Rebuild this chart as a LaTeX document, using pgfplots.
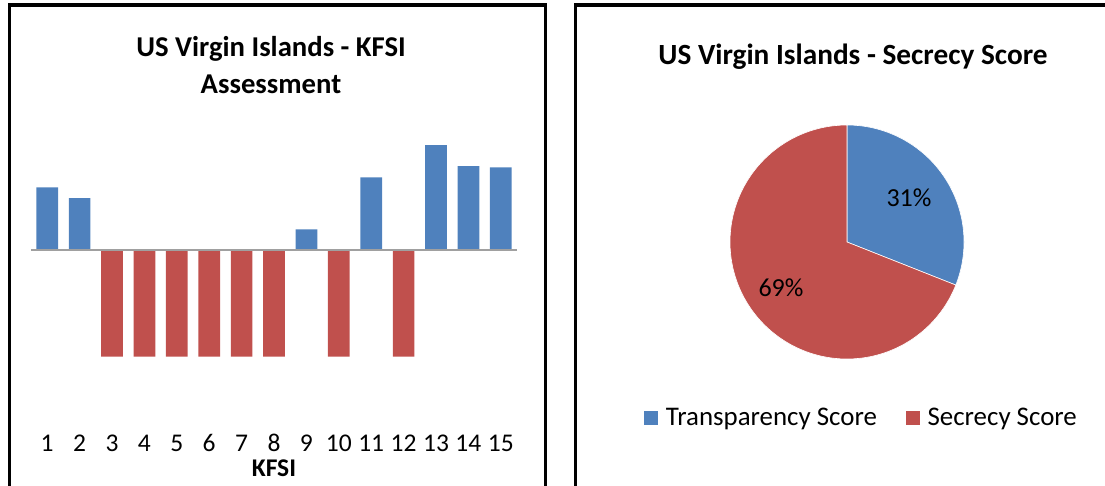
\documentclass[border=0pt]{standalone}
\usepackage{pgfplots}
\pgfplotsset{compat=1.18}
\usepackage{fontspec}
\setmainfont{Carlito}
\definecolor{kblue}{HTML}{4F81BD}
\definecolor{kred}{HTML}{C0504D}
\definecolor{kgray}{RGB}{160,160,160}
\begin{document}
\begin{tikzpicture}[x=1pt,y=1pt]
\useasboundingbox (0,0) rectangle (1105,485);
% panel frames
\draw[line width=3.6pt] (9.5,-5) -- (9.5,479.7) -- (545.3,479.7) -- (545.3,-5);
\draw[line width=3.6pt] (575.3,-5) -- (575.3,479.7) -- (1110,479.7);
% titles
\node[anchor=base, inner sep=0pt, font=\fontsize{28.7}{34}\selectfont\bfseries] at (271,428.3) {US Virgin Islands - KFSI};
\node[anchor=base, inner sep=0pt, font=\fontsize{28.7}{34}\selectfont\bfseries] at (271,391.7) {Assessment};
\node[anchor=base, inner sep=0pt, font=\fontsize{29.3}{34}\selectfont\bfseries] at (853,420) {US Virgin Islands - Secrecy Score};
\node[anchor=base, inner sep=0pt, font=\fontsize{25.5}{30}\selectfont\bfseries] at (274,8.3) {KFSI};

% KFSI bar chart
\begin{axis}[
  at={(31pt,53pt)}, anchor=south west,
  scale only axis, width=486pt, height=302pt,
  xmin=0.5, xmax=15.5, ymin=-1.7057, ymax=1.1246,
  axis line style={draw=none},
  ytick=\empty,
  xtick={1,2,...,15},
  xticklabels={1,2,3,4,5,6,7,8,9,10,11,12,13,14,15},
  major tick length=0pt,
  xticklabel style={anchor=base, inner sep=0pt, yshift=-19.7pt, font=\fontsize{25.5}{30}\selectfont},
  ybar, bar width=21.7pt, bar shift=0pt,
  clip=false,
]
\addplot[fill=kblue, draw=none] coordinates {
 (1,0.588) (2,0.485) (9,0.194) (11,0.681) (13,0.984) (14,0.787) (15,0.775)};
\addplot[fill=kred, draw=none] coordinates {
 (3,-1) (4,-1) (5,-1) (6,-1) (7,-1) (8,-1) (10,-1) (12,-1)};
\addplot[ybar=false, sharp plot, draw=kgray, line width=2pt, mark=none] coordinates {(0.5,0) (15.5,0)};
\end{axis}

% Pie chart
\def\transp{31}
\begin{axis}[
  at={(847pt,243pt)}, anchor=center,
  scale only axis, width=234pt, height=234pt,
  xmin=-1, xmax=1, ymin=-1, ymax=1,
  hide axis, clip=false,
  legend style={draw=none, fill=none, legend columns=2,
    at={(0.56,-0.252)}, anchor=center,
    font=\fontsize{26.9}{31}\selectfont,
    /tikz/every odd column/.append style={column sep=5pt},
    /tikz/every even column/.append style={column sep=26pt},
    cells={anchor=west}},
  legend image code/.code={\fill[#1] (0pt,-7.5pt) rectangle (15pt,7.5pt);},
]
\addplot[fill=kblue, draw=white, line width=0.6pt, domain={90-3.6*\transp}:90, samples=120, variable=\t]
  ({cos(t)},{sin(t)}) -- (axis cs:0,0) -- cycle;
\addlegendentry{Transparency Score}
\addplot[fill=kred, draw=white, line width=0.6pt, domain=-270:{90-3.6*\transp}, samples=240, variable=\t]
  ({cos(t)},{sin(t)}) -- (axis cs:0,0) -- cycle;
\addlegendentry{Secrecy Score}
\node[font=\fontsize{26}{31}\selectfont] at (axis cs:0.53,0.376) {31\%};
\node[font=\fontsize{26}{31}\selectfont] at (axis cs:-0.564,-0.393) {69\%};
\end{axis}
\end{tikzpicture}
\end{document}
